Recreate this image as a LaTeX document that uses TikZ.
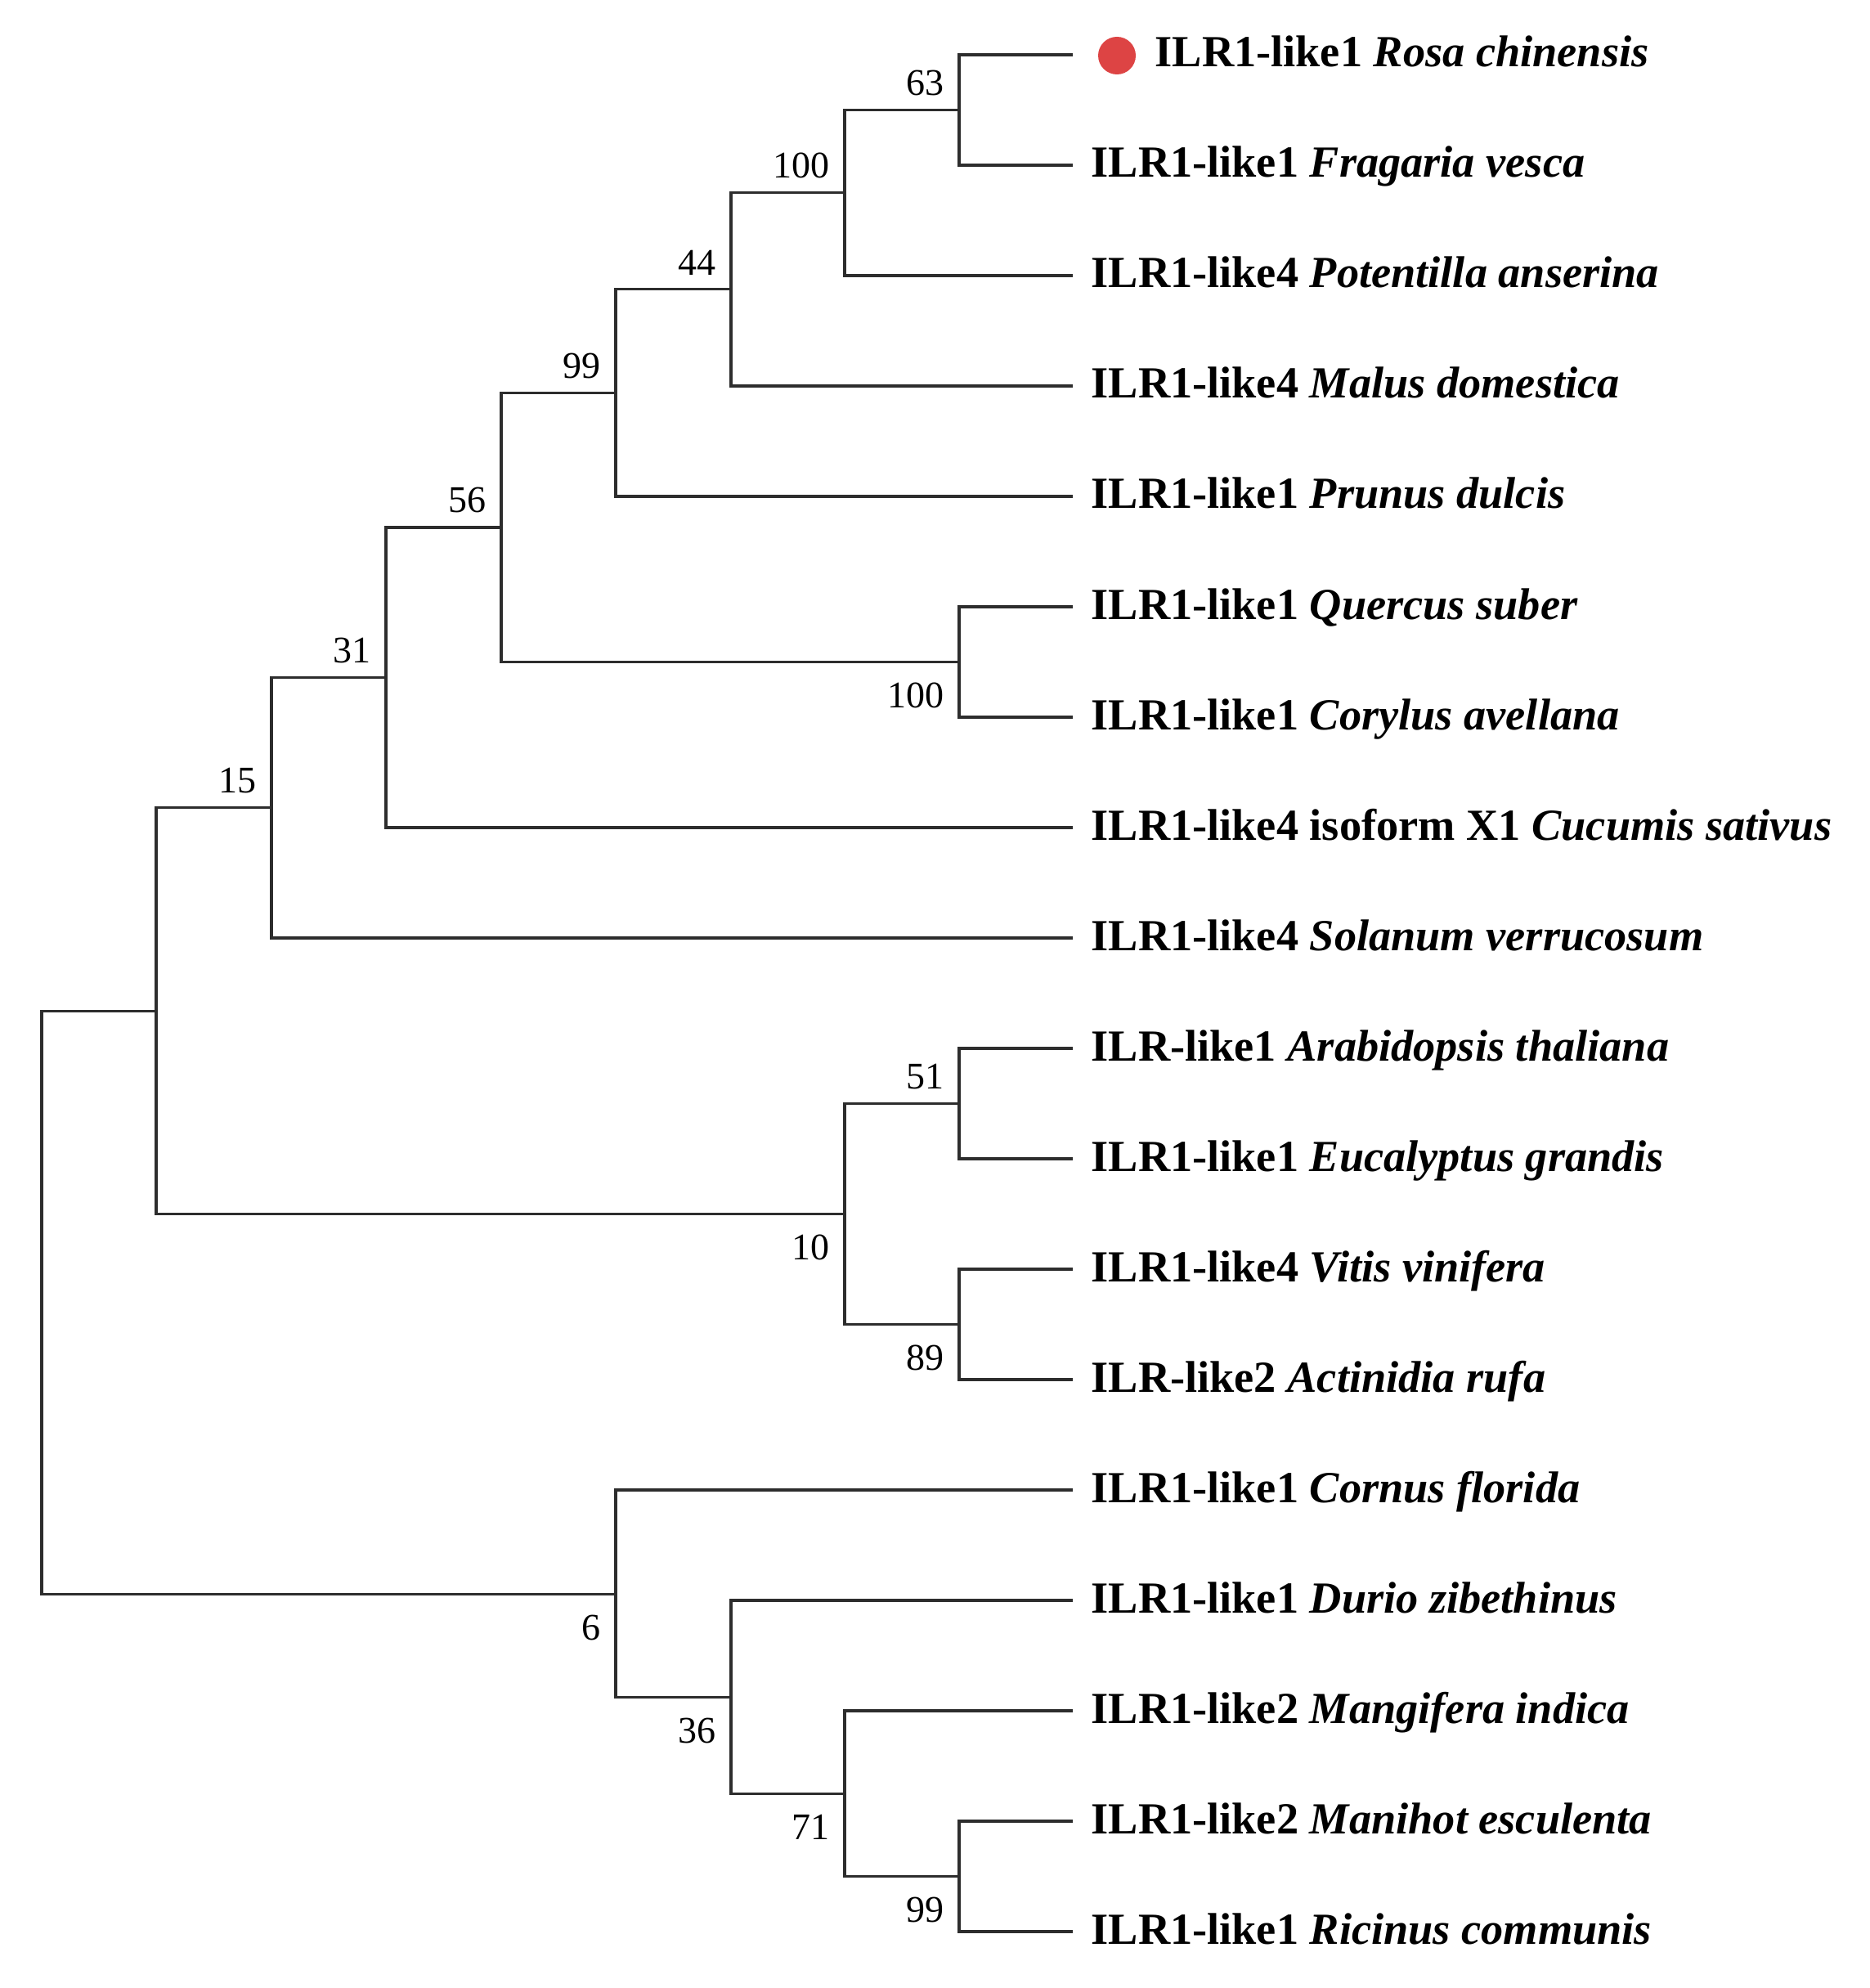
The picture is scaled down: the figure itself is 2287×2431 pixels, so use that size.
\documentclass[tikz,border=0pt]{standalone}
\usepackage{fontspec}
\setmainfont{Liberation Serif}
\definecolor{dotred}{RGB}{221,68,68}
\definecolor{branch}{RGB}{45,45,45}
\begin{document}
\begin{tikzpicture}[x=0.3pt,y=-0.3pt,
  br/.style={draw=branch,line width=0.95pt,line join=miter},
  tip/.style={anchor=base west,inner sep=0pt,font=\fontsize{16.3}{19}\selectfont\bfseries},
  bsa/.style={anchor=south east,inner sep=0pt,font=\fontsize{13.8}{16}\selectfont},
  bsb/.style={anchor=north east,inner sep=0pt,font=\fontsize{13.8}{16}\selectfont},
  reddot/.style={circle,fill=dotred,inner sep=0pt,minimum size=13.8pt}]
\useasboundingbox (0,0) rectangle (2287,2431);
% tip ends
\coordinate (t0) at (1312,67);
\coordinate (t1) at (1312,202);
\coordinate (t2) at (1312,337);
\coordinate (t3) at (1312,472);
\coordinate (t4) at (1312,607);
\coordinate (t5) at (1312,742);
\coordinate (t6) at (1312,877);
\coordinate (t7) at (1312,1012);
\coordinate (t8) at (1312,1147);
\coordinate (t9) at (1312,1282);
\coordinate (t10) at (1312,1417);
\coordinate (t11) at (1312,1552);
\coordinate (t12) at (1312,1687);
\coordinate (t13) at (1312,1822);
\coordinate (t14) at (1312,1957);
\coordinate (t15) at (1312,2092);
\coordinate (t16) at (1312,2227);
\coordinate (t17) at (1312,2362);
% internal nodes
\coordinate (n63) at (1173,134.5);
\coordinate (n100) at (1033,235.75);
\coordinate (n44) at (894,353.9);
\coordinate (n99) at (753,480.4);
\coordinate (nQC) at (1173,809.5);
\coordinate (n56) at (613,645);
\coordinate (n31) at (472,828.5);
\coordinate (n15) at (332,987.7);
\coordinate (n51) at (1173,1349.5);
\coordinate (n89) at (1173,1619.5);
\coordinate (n10) at (1033,1484.5);
\coordinate (nX) at (191,1236.1);
\coordinate (n99b) at (1173,2294.5);
\coordinate (n71) at (1033,2193.25);
\coordinate (n36) at (894,2075.1);
\coordinate (n6) at (753,1949.1);
\coordinate (root) at (51,1592.6);
% branches
\draw[br] (t0) -| (n63) |- (t1);
\draw[br] (n63) -| (n100) |- (t2);
\draw[br] (n100) -| (n44) |- (t3);
\draw[br] (n44) -| (n99) |- (t4);
\draw[br] (t5) -| (nQC) |- (t6);
\draw[br] (n99) -| (n56) |- (nQC);
\draw[br] (n56) -| (n31) |- (t7);
\draw[br] (n31) -| (n15) |- (t8);
\draw[br] (t9) -| (n51) |- (t10);
\draw[br] (t11) -| (n89) |- (t12);
\draw[br] (n51) -| (n10) |- (n89);
\draw[br] (n15) -| (nX) |- (n10);
\draw[br] (t16) -| (n99b) |- (t17);
\draw[br] (t15) -| (n71) |- (n99b);
\draw[br] (t14) -| (n36) |- (n71);
\draw[br] (t13) -| (n6) |- (n36);
\draw[br] (nX) -| (root) |- (n6);
% bootstrap values
\node[bsa] (b63) at (1155,117.5) {63};
\node[bsa] (b100) at (1015,218.75) {100};
\node[bsa] (b44) at (876,336.9) {44};
\node[bsa] (b99) at (735,463.4) {99};
\node[bsa] (b56) at (595,628) {56};
\node[bsa] (b31) at (454,811.5) {31};
\node[bsa] (b15) at (314,970.7) {15};
\node[bsb] (bQC) at (1155,834.5) {100};
\node[bsa] (b51) at (1155,1332.5) {51};
\node[bsb] (b89) at (1155,1644.5) {89};
\node[bsb] (b10) at (1015,1509.5) {10};
\node[bsb] (b99b) at (1155,2319.5) {99};
\node[bsb] (b71) at (1015,2218.25) {71};
\node[bsb] (b36) at (876,2100.1) {36};
\node[bsb] (b6) at (735,1974.1) {6};
% tip labels
\node[reddot] (dot) at (1366,68) {};
\node[tip] (l0) at (1412,82) {ILR1-like1 \textit{Rosa chinensis}};
\node[tip] (l1) at (1334,217) {ILR1-like1 \textit{Fragaria vesca}};
\node[tip] (l2) at (1334,352) {ILR1-like4 \textit{Potentilla anserina}};
\node[tip] (l3) at (1334,487) {ILR1-like4 \textit{Malus domestica}};
\node[tip] (l4) at (1334,622) {ILR1-like1 \textit{Prunus dulcis}};
\node[tip] (l5) at (1334,757) {ILR1-like1 \textit{Quercus suber}};
\node[tip] (l6) at (1334,892) {ILR1-like1 \textit{Corylus avellana}};
\node[tip] (l7) at (1334,1027) {ILR1-like4 isoform X1 \textit{Cucumis sativus}};
\node[tip] (l8) at (1334,1162) {ILR1-like4 \textit{Solanum verrucosum}};
\node[tip] (l9) at (1334,1297) {ILR-like1 \textit{Arabidopsis thaliana}};
\node[tip] (l10) at (1334,1432) {ILR1-like1 \textit{Eucalyptus grandis}};
\node[tip] (l11) at (1334,1567) {ILR1-like4 \textit{Vitis vinifera}};
\node[tip] (l12) at (1334,1702) {ILR-like2 \textit{Actinidia rufa}};
\node[tip] (l13) at (1334,1837) {ILR1-like1 \textit{Cornus florida}};
\node[tip] (l14) at (1334,1972) {ILR1-like1 \textit{Durio zibethinus}};
\node[tip] (l15) at (1334,2107) {ILR1-like2 \textit{Mangifera indica}};
\node[tip] (l16) at (1334,2242) {ILR1-like2 \textit{Manihot esculenta}};
\node[tip] (l17) at (1334,2377) {ILR1-like1 \textit{Ricinus communis}};
\end{tikzpicture}
\end{document}
